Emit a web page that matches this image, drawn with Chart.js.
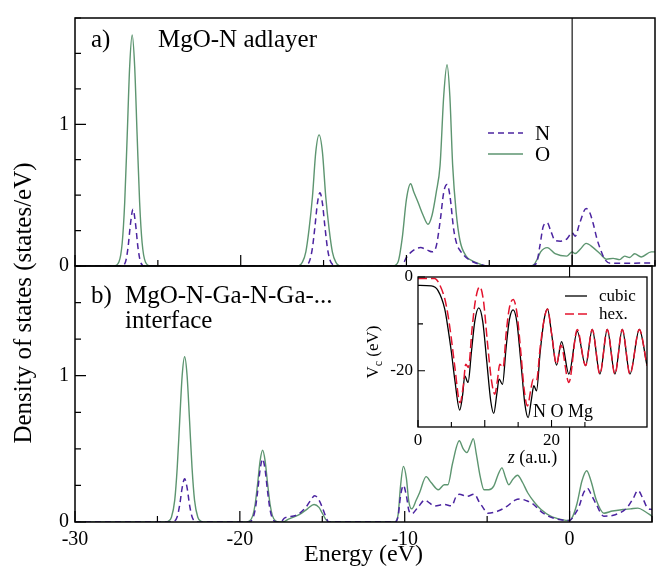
<!DOCTYPE html>
<html>
<head>
<meta charset="utf-8">
<script src="https://cdn.jsdelivr.net/npm/chart.js@4.4.1/dist/chart.umd.min.js"></script>
<style>
  html, body { margin: 0; padding: 0; background: #fff; }
  #wrap { position: relative; width: 658px; height: 571px; overflow: hidden; }
  canvas { position: absolute; left: 0; top: 0; }
</style>
</head>
<body>
<div id="wrap">
  <canvas id="top" width="658" height="571"></canvas>
  <canvas id="bottom" width="658" height="571"></canvas>
  <canvas id="inset" width="658" height="571"></canvas>
</div>
<script>
// panel a) MgO-N adlayer
const aE_N = [-30, -27.2, -26.95, -26.8, -26.65, -26.5, -26.35, -26.2, -26.05, -25.8,
  -16.25, -16.02, -15.82, -15.67, -15.52, -15.37, -15.22, -15.07, -14.92, -14.77, -14.62, -14.42, -14.2,
  -10.3, -10.0, -9.7, -9.15, -8.7, -8.45, -8.2, -7.95, -7.75, -7.55, -7.38, -7.15, -6.95, -6.77, -6.4, -6.0, -5.5, -5.1,
  -2.5, -2.15, -1.95, -1.74, -1.5, -1.3, -1.03, -0.7, -0.33, 0, 0.18, 0.45, 0.84, 1.05, 1.27, 1.5, 1.67, 1.97, 2.3, 3.5, 5];
const aN = [0, 0, 0.03, 0.13, 0.30, 0.40, 0.30, 0.13, 0.03, 0,
  0, 0.006, 0.044, 0.129, 0.279, 0.443, 0.517, 0.443, 0.279, 0.129, 0.044, 0.006, 0,
  0, 0.06, 0.1, 0.13, 0.11, 0.1, 0.14, 0.33, 0.52, 0.575, 0.5, 0.26, 0.15, 0.11, 0.06, 0.03, 0.01, 0,
  0, 0.02, 0.14, 0.28, 0.305, 0.25, 0.18, 0.175, 0.19, 0.235, 0.21, 0.3, 0.405, 0.38, 0.3, 0.19, 0.13, 0.047, 0.02, 0.02, 0.022];

const aE_O = [-30, -27.65, -27.35, -27.15, -27.0, -26.85, -26.7, -26.55, -26.4, -26.25, -26.1, -25.95, -25.75, -25.45,
  -16.57, -16.27, -16.07, -15.87, -15.67, -15.47, -15.27, -15.07, -14.87, -14.67, -14.47, -14.27, -13.97,
  -10.8, -10.5, -10.25, -10.0, -9.75, -9.55, -9.3, -9.0, -8.7, -8.45, -8.2, -7.97, -7.75, -7.55, -7.38, -7.21, -7.0, -6.77, -6.4, -6.0, -5.6, -5.2,
  -2.5, -2.3, -2.1, -1.9, -1.5, -1.03, -0.33, 0, 0.18, 0.5, 0.84, 1.27, 1.67, 2.07, 2.47, 2.87, 3.17, 3.47, 3.77, 4.17, 4.77, 5];
const aO = [0, 0, 0.028, 0.164, 0.45, 0.92, 1.41, 1.63, 1.41, 0.92, 0.45, 0.164, 0.028, 0,
  0, 0.029, 0.10, 0.265, 0.49, 0.805, 0.925, 0.805, 0.49, 0.265, 0.10, 0.029, 0,
  0, 0.03, 0.2, 0.47, 0.58, 0.52, 0.45, 0.36, 0.295, 0.36, 0.52, 0.71, 1.2, 1.42, 1.2, 0.71, 0.38, 0.18, 0.07, 0.035, 0.015, 0,
  0, 0.01, 0.05, 0.1, 0.13, 0.088, 0.07, 0.1, 0.088, 0.12, 0.16, 0.13, 0.088, 0.048, 0.054, 0.045, 0.07, 0.06, 0.086, 0.064, 0.1, 0.1];

// panel b) MgO-N-Ga-N-Ga-... interface
const bE_N = [-30, -24.15, -23.95, -23.8, -23.65, -23.5, -23.35, -23.2, -23.05, -22.9, -22.75, -22.55,
  -19.45, -19.22, -19.07, -18.92, -18.77, -18.62, -18.47, -18.32, -18.17, -18.02, -17.8,
  -17.5, -17.3, -16.6, -16.0, -15.7, -15.46, -15.2, -15.0, -14.8, -14.6,
  -10.6, -10.4, -10.25, -10.08, -9.9, -9.75, -9.57, -9.2, -8.77, -8.5, -8.2, -7.6, -7.15, -6.9, -6.69, -6.23, -5.77, -5.5, -5.3, -4.96,
  -4.38, -3.8, -3.3, -3.0, -2.6, -2.3, -1.6, -1.0, 0, 0.3, 0.58, 0.85, 1.08, 1.35, 1.62, 2.08, 2.77, 3.46, 3.85, 4.15, 4.45, 4.73, 5];
const bN = [0, 0, 0.007, 0.036, 0.116, 0.234, 0.295, 0.234, 0.116, 0.036, 0.007, 0,
  0, 0.024, 0.085, 0.21, 0.359, 0.43, 0.359, 0.21, 0.085, 0.024, 0,
  0, 0.027, 0.045, 0.1, 0.15, 0.18, 0.15, 0.1, 0.04, 0,
  0, 0.04, 0.18, 0.25, 0.18, 0.08, 0.057, 0.1, 0.15, 0.13, 0.11, 0.12, 0.11, 0.17, 0.19, 0.175, 0.19, 0.14, 0.107, 0.06,
  0.073, 0.107, 0.15, 0.157, 0.145, 0.13, 0.06, 0.027, 0.01, 0.05, 0.107, 0.2, 0.23, 0.18, 0.12, 0.04, 0.05, 0.095, 0.16, 0.215, 0.16, 0.095, 0.085];

const bE_O = [-30, -24.55, -24.35, -24.15, -23.95, -23.8, -23.65, -23.5, -23.35, -23.2, -23.05, -22.9, -22.75, -22.55, -22.35, -22.15,
  -19.62, -19.42, -19.22, -19.07, -18.92, -18.77, -18.62, -18.47, -18.32, -18.17, -18.02, -17.82, -17.62,
  -17.4, -17.05, -16.4, -15.9, -15.5, -15.2, -15.0, -14.8, -14.6,
  -10.6, -10.4, -10.25, -10.08, -9.9, -9.75, -9.57, -9.3, -9.1, -8.7, -8.4, -7.96, -7.6, -7.38, -7.1, -6.69, -6.45, -6.23, -6.0, -5.84,
  -5.65, -5.42, -5.19, -4.9, -4.6, -4.35, -4.1, -3.9, -3.69, -3.45, -3.16, -2.85, -2.54, -2.1, -1.73, -1.15, -0.46, 0, 0.2, 0.46,
  0.75, 1.04, 1.3, 1.62, 2.08, 2.6, 3.23, 3.7, 4.15, 4.6, 5];
const bO = [0, 0, 0.005, 0.033, 0.15, 0.37, 0.69, 1.0, 1.13, 1.0, 0.69, 0.37, 0.15, 0.033, 0.005, 0,
  0, 0.006, 0.042, 0.123, 0.265, 0.42, 0.49, 0.42, 0.265, 0.123, 0.042, 0.006, 0,
  0, 0.02, 0.05, 0.09, 0.12, 0.1, 0.06, 0.02, 0,
  0, 0.05, 0.25, 0.38, 0.3, 0.14, 0.09, 0.15, 0.2, 0.31, 0.27, 0.22, 0.255, 0.255, 0.4, 0.555, 0.5, 0.475, 0.53, 0.57,
  0.46, 0.31, 0.22, 0.22, 0.245, 0.32, 0.37, 0.31, 0.255, 0.29, 0.32, 0.27, 0.2, 0.13, 0.085, 0.04, 0.016, 0.01, 0.04, 0.13,
  0.28, 0.35, 0.28, 0.15, 0.06, 0.075, 0.085, 0.09, 0.095, 0.07, 0.04];

// Fermi level marker
const fermiE = [0, 0];
const fermiY = [0, 1.75];

// inset: V_c(z)
const zCubic = [0, 2, 3, 4, 4.5, 5, 5.5, 6.25, 6.7, 7.0, 7.5, 8.0, 8.5, 9.1, 9.7, 10.3, 10.9, 11.35, 11.8, 12.15,
  12.65, 13.2, 13.7, 14.25, 14.8, 15.4, 16.0, 16.5, 17.0, 17.35, 17.75, 18.3, 18.9, 19.4, 20.0, 20.75, 21.5, 22.6, 23.85, 25.1,
  26.1, 27.25, 28.35, 29.5, 30.6, 31.75, 33.15, 34.3];
const vCubic = [-1.8, -1.9, -2.9, -6.8, -11, -16, -21.8, -28.4, -25, -21.1, -22.5, -16, -9.5, -6.6, -9.5, -18, -26.5, -29.1, -25, -21.8,
  -22.9, -15, -9, -7.0, -9.5, -18, -27, -30.0, -26, -23.2, -24.3, -16, -9, -6.8, -12, -18.8, -13.8, -20.7, -11.6, -18.9,
  -11.2, -20.7, -11.2, -20.7, -11.2, -20.7, -11.2, -18.9];
const zHex = [0, 2.5, 3, 4, 4.5, 5, 5.5, 6.3, 6.8, 7.15, 7.55, 8.1, 8.6, 9.25, 9.8, 10.4, 11.0, 11.5, 11.9, 12.25,
  12.75, 13.2, 13.7, 14.25, 14.8, 15.4, 15.9, 16.4, 16.9, 17.25, 17.75, 18.3, 18.9, 19.4, 20.0, 20.75, 21.4, 22.6, 23.85, 25.1,
  26.1, 27.25, 28.35, 29.5, 30.6, 31.75, 33.15, 34.3];
const vHex = [-0.3, -0.3, -1, -4.6, -8.2, -13.2, -19, -26.8, -23, -18.6, -19.3, -11, -5, -2.1, -5, -14, -22, -25, -22, -18.6,
  -19.3, -12, -6.5, -4.8, -7.5, -16, -24, -27.5, -24, -21.8, -22.1, -15, -9, -6.8, -12, -18.6, -14.5, -22.5, -11.2, -18.9,
  -11.2, -20.7, -11.2, -20.7, -11.2, -20.7, -11.2, -18.9];

const colN = '#4b24a0';
const colO = '#5d9570';
const colHex = '#e3142e';
const serif = "'Liberation Serif', 'Times New Roman', serif";

Chart.defaults.font.family = serif;
Chart.defaults.color = '#000';
Chart.defaults.animation = false;

function pts(xs, ys) {
  return xs.map((x, i) => ({ x: x, y: ys[i] }));
}

function onStep(v, step) {
  const k = v / step;
  return Math.abs(k - Math.round(k)) < 1e-6;
}

// box around the plot area, ticks pointing inwards
function framePlugin(c) {
  return {
    id: 'frame',
    afterDraw(chart) {
      const ctx = chart.ctx, a = chart.chartArea;
      const xs = chart.scales.x, ys = chart.scales.y;
      ctx.save();
      ctx.strokeStyle = '#000';
      ctx.lineWidth = c.tick;
      ctx.beginPath();
      xs.ticks.forEach(t => {
        if (!onStep(t.value, c.xStep)) return;
        const px = xs.getPixelForValue(t.value);
        const len = onStep(t.value, c.xMajor) ? c.major : c.minor;
        ctx.moveTo(px, a.bottom);
        ctx.lineTo(px, a.bottom - len);
      });
      ys.ticks.forEach(t => {
        if (!onStep(t.value, c.yStep)) return;
        const py = ys.getPixelForValue(t.value);
        const len = onStep(t.value, c.yMajor) ? c.major : c.minor;
        ctx.moveTo(a.left, py);
        ctx.lineTo(a.left + len, py);
      });
      ctx.stroke();
      ctx.lineWidth = c.border;
      ctx.strokeRect(a.left, a.top, a.right - a.left, a.bottom - a.top);
      ctx.restore();
    }
  };
}

function legendLine(ctx, x0, x1, y, color, width, dash) {
  ctx.save();
  ctx.strokeStyle = color;
  ctx.lineWidth = width;
  ctx.setLineDash(dash);
  ctx.beginPath();
  ctx.moveTo(x0, y);
  ctx.lineTo(x1, y);
  ctx.stroke();
  ctx.restore();
}

const topText = {
  id: 'topText',
  afterDraw(chart) {
    const ctx = chart.ctx;
    ctx.save();
    ctx.fillStyle = '#000';
    ctx.textBaseline = 'alphabetic';
    ctx.font = '25px ' + serif;
    ctx.fillText('a)', 91, 47);
    ctx.fillText('MgO-N adlayer', 158, 47);

    legendLine(ctx, 488, 523, 133, colN, 1.5, [6, 4]);
    legendLine(ctx, 488, 523, 154, colO, 1.4, []);
    ctx.font = '21px ' + serif;
    ctx.fillText('N', 535, 140);
    ctx.fillText('O', 535, 161);

    ctx.translate(31, 303);
    ctx.rotate(-Math.PI / 2);
    ctx.textAlign = 'center';
    ctx.font = '25px ' + serif;
    ctx.fillText('Density of states (states/eV)', 0, 0);
    ctx.restore();
  }
};

const bottomText = {
  id: 'bottomText',
  afterDraw(chart) {
    const ctx = chart.ctx;
    ctx.save();
    ctx.fillStyle = '#000';
    ctx.font = '25px ' + serif;
    ctx.fillText('b)', 91, 303);
    ctx.fillText('MgO-N-Ga-N-Ga-...', 125, 303);
    ctx.fillText('interface', 125, 328);
    ctx.restore();
  }
};

const insetText = {
  id: 'insetText',
  beforeDatasetsDraw(chart) {
    const ctx = chart.ctx, a = chart.chartArea;
    ctx.save();
    ctx.fillStyle = '#fff';
    ctx.fillRect(a.left, a.top, a.right - a.left, a.bottom - a.top);
    ctx.restore();
  },
  afterDraw(chart) {
    const ctx = chart.ctx, a = chart.chartArea;
    ctx.save();
    ctx.fillStyle = '#000';
    legendLine(ctx, 565, 587, 296, '#000', 1.3, []);
    legendLine(ctx, 565, 587, 314, colHex, 1.5, [9, 4]);
    ctx.font = '17px ' + serif;
    ctx.fillText('cubic', 599, 301);
    ctx.fillText('hex.', 599, 319);
    ctx.font = '18px ' + serif;
    ctx.fillText('N O Mg', 533, 417);

    // x title with italic z
    ctx.font = 'italic 18px ' + serif;
    const wz = ctx.measureText('z').width;
    ctx.font = '18px ' + serif;
    const wr = ctx.measureText(' (a.u.)').width;
    const cx = (a.left + a.right) / 2;
    let x = cx - (wz + wr) / 2;
    ctx.font = 'italic 18px ' + serif;
    ctx.fillText('z', x, 463);
    ctx.font = '18px ' + serif;
    ctx.fillText(' (a.u.)', x + wz, 463);

    // y title V_c (eV)
    ctx.translate(378, (a.top + a.bottom) / 2);
    ctx.rotate(-Math.PI / 2);
    ctx.font = '17px ' + serif;
    const wV = ctx.measureText('V').width;
    const wE = ctx.measureText(' (eV)').width;
    ctx.font = '12px ' + serif;
    const wc = ctx.measureText('c').width;
    x = -(wV + wc + wE) / 2;
    ctx.font = '17px ' + serif;
    ctx.fillText('V', x, 0);
    ctx.font = '12px ' + serif;
    ctx.fillText('c', x + wV, 4);
    ctx.font = '17px ' + serif;
    ctx.fillText(' (eV)', x + wV + wc, 0);
    ctx.restore();
  }
};

function dosAxisY() {
  return {
    type: 'linear', min: 0, max: 1.75,
    grid: { display: false, drawTicks: false },
    border: { display: false },
    ticks: {
      stepSize: 0.25, padding: 6, autoSkip: false, font: { family: serif, size: 20 },
      callback: v => (v === 0 || v === 1) ? String(v) : ''
    },
    afterFit: s => { s.width = 75; }
  };
}

function dosSets(eN, n, eO, o) {
  return [
    { data: pts(fermiE, fermiY), borderColor: '#000', borderWidth: 1.1, pointRadius: 0, tension: 0 },
    { data: pts(eN, n), borderColor: colN, borderWidth: 1.5, borderDash: [6, 4], pointRadius: 0, cubicInterpolationMode: 'monotone' },
    { data: pts(eO, o), borderColor: colO, borderWidth: 1.4, pointRadius: 0, cubicInterpolationMode: 'monotone' }
  ];
}

const dosFrame = { tick: 1.2, border: 1.5, xStep: 5, xMajor: 10, yStep: 0.25, yMajor: 1, major: 11, minor: 6 };

new Chart(document.getElementById('top'), {
  type: 'line',
  data: { datasets: dosSets(aE_N, aN, aE_O, aO) },
  options: {
    responsive: false, devicePixelRatio: 1,
    layout: { padding: { left: 0, top: 10, right: 3, bottom: 305 } },
    plugins: { legend: { display: false }, tooltip: { enabled: false } },
    scales: {
      x: {
        type: 'linear', min: -30, max: 5,
        grid: { display: false, drawTicks: false },
        border: { display: false },
        ticks: { stepSize: 5, display: false },
        afterFit: s => { s.height = 0; }
      },
      y: dosAxisY()
    }
  },
  plugins: [framePlugin(dosFrame), topText]
});

new Chart(document.getElementById('bottom'), {
  type: 'line',
  data: { datasets: dosSets(bE_N, bN, bE_O, bO) },
  options: {
    responsive: false, devicePixelRatio: 1,
    layout: { padding: { left: 0, top: 266, right: 3, bottom: 0 } },
    plugins: { legend: { display: false }, tooltip: { enabled: false } },
    scales: {
      x: {
        type: 'linear', min: -30, max: 5,
        grid: { display: false, drawTicks: false },
        border: { display: false },
        ticks: {
          stepSize: 5, padding: 6, autoSkip: false, maxRotation: 0, font: { family: serif, size: 20 },
          callback: v => onStep(v, 10) ? String(v) : ''
        },
        title: { display: true, text: 'Energy (eV)', font: { family: serif, size: 24 }, padding: { top: 0, bottom: 2 } },
        afterFit: s => { s.height = 49; }
      },
      y: dosAxisY()
    }
  },
  plugins: [framePlugin(dosFrame), bottomText]
});

new Chart(document.getElementById('inset'), {
  type: 'line',
  data: {
    datasets: [
      { data: pts(zHex, vHex), borderColor: colHex, borderWidth: 1.5, borderDash: [9, 4], pointRadius: 0, cubicInterpolationMode: 'monotone' },
      { data: pts(zCubic, vCubic), borderColor: '#000', borderWidth: 1.3, pointRadius: 0, cubicInterpolationMode: 'monotone' }
    ]
  },
  options: {
    responsive: false, devicePixelRatio: 1,
    layout: { padding: { left: 360, top: 277, right: 11, bottom: 96 } },
    plugins: { legend: { display: false }, tooltip: { enabled: false } },
    scales: {
      x: {
        type: 'linear', min: 0, max: 34.3,
        grid: { display: false, drawTicks: false },
        border: { display: false },
        ticks: {
          stepSize: 5, padding: 3, autoSkip: false, maxRotation: 0, font: { family: serif, size: 17 },
          callback: v => (v === 0 || v === 20) ? String(v) : ''
        },
        afterFit: s => { s.height = 48; }
      },
      y: {
        type: 'linear', min: -32, max: 0,
        grid: { display: false, drawTicks: false },
        border: { display: false },
        ticks: {
          stepSize: 10, padding: 5, autoSkip: false, font: { family: serif, size: 17 },
          callback: v => (v === 0 || v === -20) ? String(v) : ''
        },
        afterFit: s => { s.width = 58; }
      }
    }
  },
  plugins: [framePlugin({ tick: 1.1, border: 1.3, xStep: 5, xMajor: 10, yStep: 10, yMajor: 20, major: 7, minor: 5 }), insetText]
});
</script>
</body>
</html>
